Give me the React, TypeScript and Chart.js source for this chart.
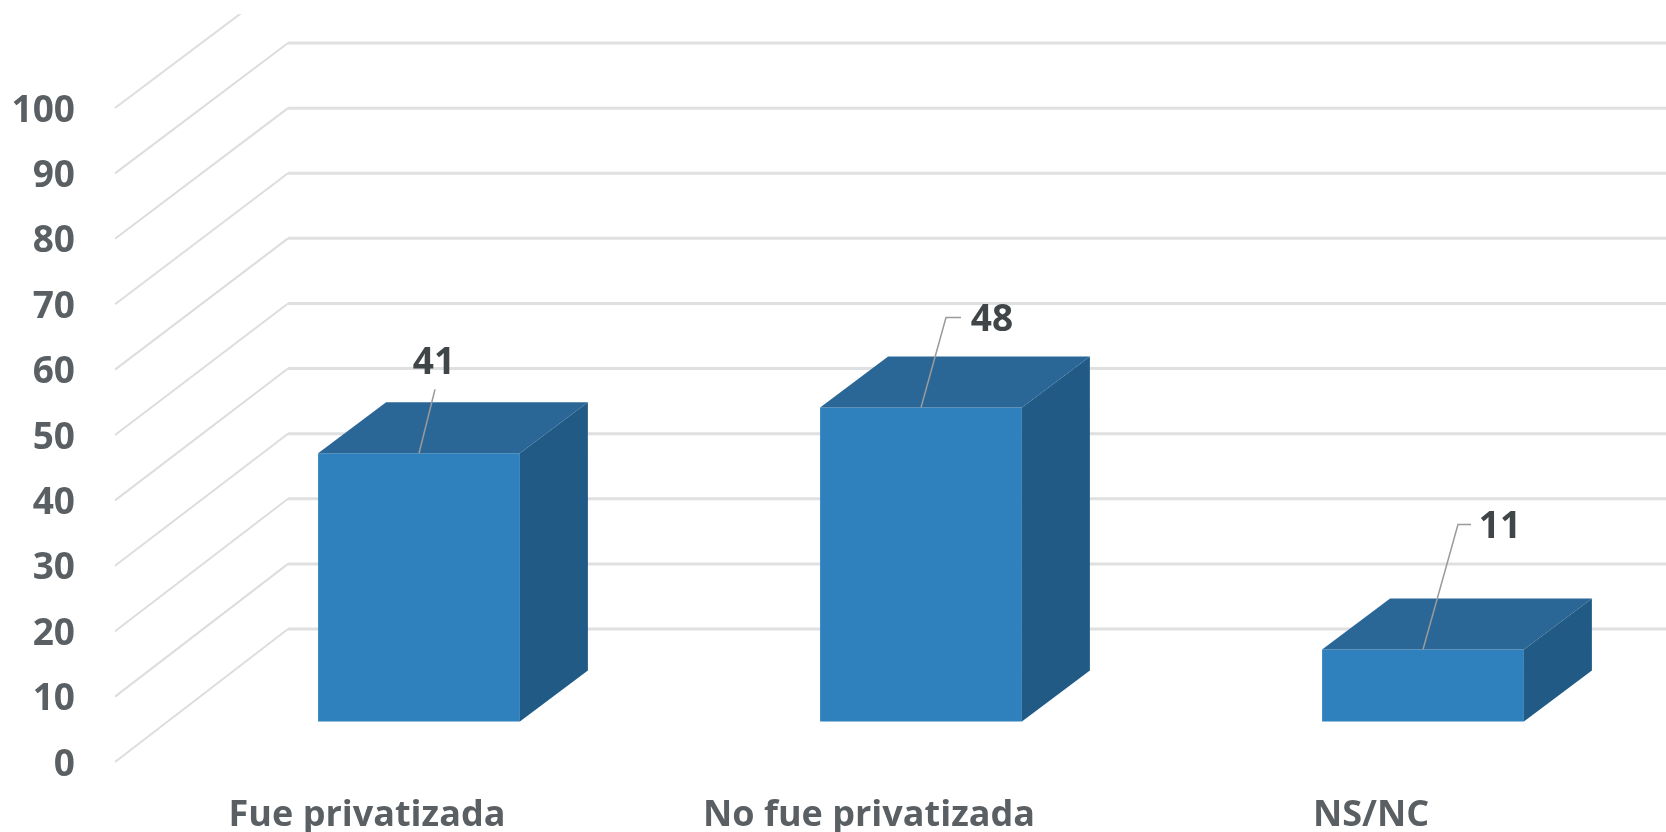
import React, { useEffect, useRef } from "react";
import { Chart, registerables } from "chart.js";

Chart.register(...registerables);

const categories = ["Fue privatizada", "No fue privatizada", "NS/NC"];
const values = [41, 48, 11];
const tickValues = [0, 10, 20, 30, 40, 50, 60, 70, 80, 90, 100];

const FONT = '"Open Sans", sans-serif';
const leaderElbowDx = [16, 25, 35];
const leaderElbowDy = [-64, -90, -125];
const leaderEndDx = [16, 40, 48];
const labelDx = [15, 71, 77];
const labelDy = [-90, -87, -122];

const plotTop = 108;
const plotBottom = 762;
const wallDx = 173;
const wallDy = -133;
const wallScale = 0.9955;
const barDepthDx = 68;
const barDepthDy = -51;

const box3d = {
  id: "box3d",
  afterLayout(chart: any) {
    const { x, y, yBars } = chart.scales;
    [y, yBars].forEach((s: any) => {
      s.top = plotTop;
      s.bottom = plotBottom;
      s.height = plotBottom - plotTop;
      s._labelItems = null;
      s.configure();
    });
    x.top = plotBottom;
    x.bottom = plotBottom + 70;
    x._labelItems = null;
    chart.chartArea.top = plotTop;
    chart.chartArea.bottom = plotBottom;
    chart.chartArea.height = plotBottom - plotTop;
  },
  beforeDatasetsDraw(chart: any) {
    const { ctx } = chart;
    const y = chart.scales.y;
    const left = y.right - 53;
    const zero = y.getPixelForValue(0);
    ctx.save();
    ctx.beginPath();
    ctx.rect(0, 14, chart.width, chart.height);
    ctx.clip();
    tickValues.forEach((v) => {
      const py = y.getPixelForValue(v);
      const backY = zero + wallDy + (py - zero) * wallScale;
      ctx.strokeStyle = "#dcdddd";
      ctx.lineWidth = 2;
      ctx.beginPath();
      ctx.moveTo(left, py);
      ctx.lineTo(left + wallDx, backY);
      ctx.stroke();
      ctx.strokeStyle = "#dfe0e1";
      ctx.lineWidth = 3;
      ctx.beginPath();
      ctx.moveTo(left + wallDx, backY);
      ctx.lineTo(chart.width, backY);
      ctx.stroke();
    });
    ctx.restore();
  },
  afterDatasetsDraw(chart: any) {
    const { ctx } = chart;
    const bars = chart.getDatasetMeta(0).data;
    bars.forEach((bar: any, i: number) => {
      const half = bar.width / 2;
      const l = bar.x - half;
      const r = bar.x + half;
      const t = bar.y;
      const b = bar.base;
      ctx.fillStyle = "#2a6797";
      ctx.beginPath();
      ctx.moveTo(l, t);
      ctx.lineTo(l + barDepthDx, t + barDepthDy);
      ctx.lineTo(r + barDepthDx, t + barDepthDy);
      ctx.lineTo(r, t);
      ctx.closePath();
      ctx.fill();
      ctx.fillStyle = "#205a85";
      ctx.beginPath();
      ctx.moveTo(r, t);
      ctx.lineTo(r + barDepthDx, t + barDepthDy);
      ctx.lineTo(r + barDepthDx, b + barDepthDy);
      ctx.lineTo(r, b);
      ctx.closePath();
      ctx.fill();

      ctx.strokeStyle = "#9a9a9a";
      ctx.lineWidth = 1.5;
      ctx.beginPath();
      ctx.moveTo(bar.x, t);
      ctx.lineTo(bar.x + leaderElbowDx[i], t + leaderElbowDy[i]);
      ctx.lineTo(bar.x + leaderEndDx[i], t + leaderElbowDy[i]);
      ctx.stroke();

      ctx.fillStyle = "#404548";
      ctx.font = `bold 37px ${FONT}`;
      ctx.textAlign = "center";
      ctx.textBaseline = "middle";
      ctx.fillText(String(values[i]), bar.x + labelDx[i], t + labelDy[i]);
    });
  },
};

export default function App() {
  const ref = useRef<HTMLCanvasElement>(null);
  useEffect(() => {
    document.body.style.margin = "0";
    document.body.style.background = "#ffffff";
    const chart = new Chart(ref.current as HTMLCanvasElement, {
      type: "bar",
      data: {
        labels: categories,
        datasets: [
          {
            data: values,
            yAxisID: "yBars",
            backgroundColor: "#2e81bd",
            barPercentage: 0.402,
            categoryPercentage: 1,
          },
        ],
      },
      options: {
        animation: false,
        responsive: false,
        layout: { autoPadding: false, padding: { top: 108, right: 26, left: 0, bottom: 0 } },
        plugins: { legend: { display: false }, tooltip: { enabled: false } },
        scales: {
          x: {
            grid: { display: false, drawTicks: false },
            border: { display: false },
            afterFit: (s: any) => { s.height = 70; },
            ticks: {
              labelOffset: -52,
              padding: 32,
              maxRotation: 0,
              color: "#595f63",
              font: { family: FONT, size: 36, weight: "bold" },
            },
          },
          y: {
            min: 0,
            max: 100,
            grid: { display: false, drawTicks: false },
            border: { display: false },
            afterFit: (s: any) => { s.width = 168; },
            afterBuildTicks: (s: any) => { s.ticks = tickValues.map((value) => ({ value })); },
            ticks: {
              padding: 93,
              labelOffset: 3,
              color: "#595f63",
              font: { family: FONT, size: 37, weight: "bold" },
            },
          },
          yBars: {
            display: false,
            min: -6.2,
            max: 93.8,
          },
        },
      },
      plugins: [box3d],
    } as any);
    return () => chart.destroy();
  }, []);
  return (
    <div style={{ width: 1666, height: 832, overflow: "hidden" }}>
      <canvas ref={ref} width={1700} height={832} style={{ display: "block" }} />
    </div>
  );
}
